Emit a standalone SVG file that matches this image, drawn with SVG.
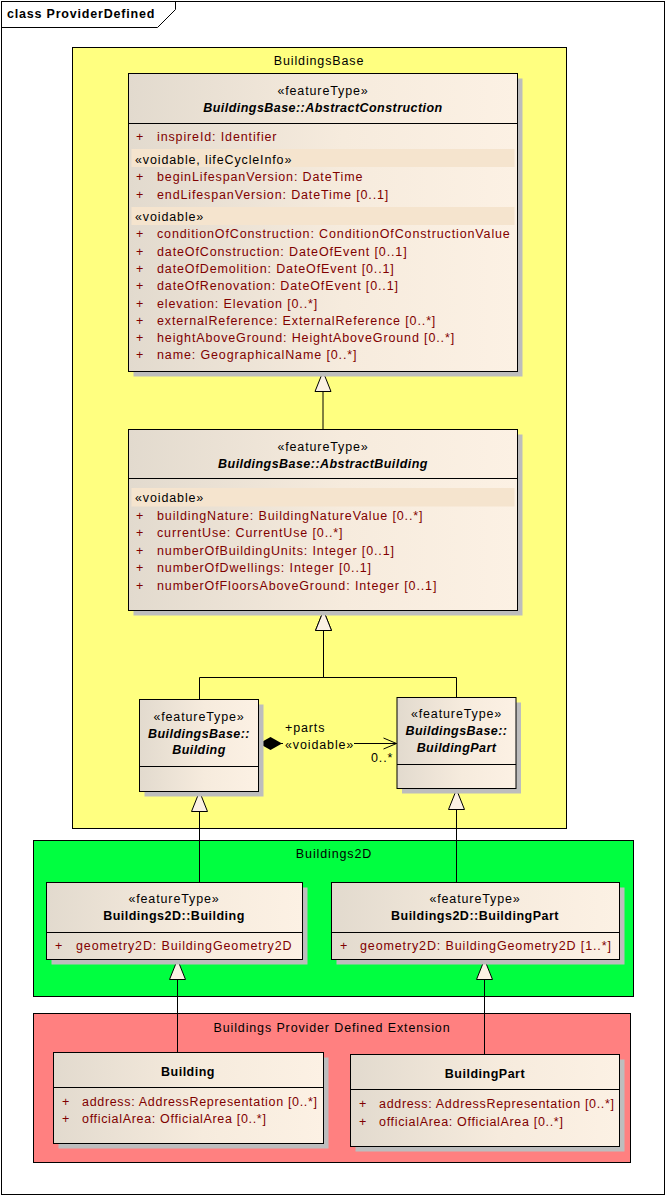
<svg xmlns="http://www.w3.org/2000/svg" width="667" height="1196" viewBox="0 0 667 1196">
<style>
.t{font-family:"Liberation Sans",Arial,sans-serif;font-size:12.5px;letter-spacing:0.87px;fill:#000}
.a{fill:#800000}
.n{letter-spacing:0.68px}
.bi{font-weight:bold;font-style:italic;letter-spacing:0.45px}
.b{font-weight:bold;letter-spacing:0.5px}
.ttl{font-weight:bold;letter-spacing:0.8px}
.m{text-anchor:middle}
.box{fill:url(#g);stroke:#000;stroke-width:1}
.sh{fill:#BDBDBD}
.sep{stroke:#000;stroke-width:1}
.band{fill:#F5E4CE}
.pkg{stroke:#000;stroke-width:1}
.con{fill:none;stroke:#000;stroke-width:1}
</style>
<defs>
<linearGradient id="g" x1="0" y1="0" x2="1" y2="0">
<stop offset="0" stop-color="#E2DACE"/>
<stop offset="0.55" stop-color="#F6EBDD"/>
<stop offset="1" stop-color="#FCF1E4"/>
</linearGradient>
<marker id="gen" markerUnits="userSpaceOnUse" viewBox="0 0 22 18" refX="21" refY="9" markerWidth="22" markerHeight="18" orient="auto" overflow="visible">
<path d="M1,1 L21,9 L1,17 Z" fill="#FBF1E4" stroke="#000" stroke-width="1"/>
</marker>
<marker id="dia" markerUnits="userSpaceOnUse" viewBox="0 0 23 13" refX="0" refY="6.5" markerWidth="23" markerHeight="13" orient="auto" overflow="visible">
<path d="M0,6.5 L11.5,0 L23,6.5 L11.5,13 Z" fill="#000"/>
</marker>
<marker id="open" markerUnits="userSpaceOnUse" viewBox="0 0 14 12" refX="13" refY="6" markerWidth="14" markerHeight="12" orient="auto" overflow="visible">
<path d="M0,0.5 L13,6 L0,11.5" fill="none" stroke="#000" stroke-width="1"/>
</marker>
</defs>
<rect x="0" y="0" width="667" height="1196" fill="#fff"/>
<g id="frame">
<rect x="1.5" y="1.5" width="663" height="1193" fill="none" stroke="#000"/>
<path d="M1.5,27.5 H157.5 L175.5,9.5 V1.5" fill="none" stroke="#000"/>
<text class="t ttl" x="7" y="18">class ProviderDefined</text>
</g>
<g id="pkg-BuildingsBase">
<rect class="pkg" x="72.5" y="47.5" width="494" height="781" fill="#FFFF80"/>
<text class="t m" x="319" y="64.5">BuildingsBase</text>
</g>
<g id="pkg-Buildings2D">
<rect class="pkg" x="33.5" y="840.5" width="600" height="156" fill="#00FF40"/>
<text class="t m" x="334" y="857.5">Buildings2D</text>
</g>
<g id="pkg-Extension">
<rect class="pkg" x="33.5" y="1013.5" width="597" height="149" fill="#FF8080"/>
<text class="t m" x="332" y="1032">Buildings Provider Defined Extension</text>
</g>
<g id="connectors">
<path class="con" d="M323,429 V371.5" marker-end="url(#gen)"/>
<path class="con" d="M199.5,699 V677.5 H323.5 V610.5" marker-end="url(#gen)"/>
<path class="con" d="M456.5,697 V677.5 H323.5 V610.5" marker-end="url(#gen)"/>
<path class="con" d="M199.5,882 V791.5" marker-end="url(#gen)"/>
<path class="con" d="M456.5,882 V789.5" marker-end="url(#gen)"/>
<path class="con" d="M177.5,1052 V959.5" marker-end="url(#gen)"/>
<path class="con" d="M484.5,1054 V959.5" marker-end="url(#gen)"/>
<path class="con" d="M259,743.5 H396.5" marker-start="url(#dia)" marker-end="url(#open)"/>
<rect x="283" y="737" width="71" height="14" fill="#FFFF80"/>
<text class="t" x="285" y="731.5">+parts</text>
<text class="t" x="285" y="749">«voidable»</text>
<text class="t" x="371" y="761.5">0..*</text>
</g>
<g id="AbstractConstruction">
<rect class="sh" x="133.5" y="78.5" width="389" height="298"/>
<rect class="box" x="128.5" y="73.5" width="389" height="298"/>
<line class="sep" x1="128.5" y1="123.5" x2="517.5" y2="123.5"/>
<text class="t m" x="323" y="95">«featureType»</text>
<text class="t bi m" x="323" y="112">BuildingsBase::AbstractConstruction</text>
<text class="t a" x="136" y="141">+</text><text class="t a" x="157" y="141">inspireId: Identifier</text>
<rect class="band" x="131.5" y="149" width="383" height="18"/>
<text class="t" x="135" y="163.5">«voidable, lifeCycleInfo»</text>
<text class="t a" x="136" y="181">+</text><text class="t a" x="157" y="181">beginLifespanVersion: DateTime</text>
<text class="t a" x="136" y="198.5">+</text><text class="t a" x="157" y="198.5">endLifespanVersion: DateTime [0..1]</text>
<rect class="band" x="131.5" y="207" width="383" height="18"/>
<text class="t" x="135" y="220.5">«voidable»</text>
<text class="t a" x="136" y="238">+</text><text class="t a" x="157" y="238">conditionOfConstruction: ConditionOfConstructionValue</text>
<text class="t a" x="136" y="255.5">+</text><text class="t a" x="157" y="255.5">dateOfConstruction: DateOfEvent [0..1]</text>
<text class="t a" x="136" y="272.8">+</text><text class="t a" x="157" y="272.8">dateOfDemolition: DateOfEvent [0..1]</text>
<text class="t a" x="136" y="290.2">+</text><text class="t a" x="157" y="290.2">dateOfRenovation: DateOfEvent [0..1]</text>
<text class="t a" x="136" y="307.5">+</text><text class="t a" x="157" y="307.5">elevation: Elevation [0..*]</text>
<text class="t a" x="136" y="324.8">+</text><text class="t a" x="157" y="324.8">externalReference: ExternalReference [0..*]</text>
<text class="t a" x="136" y="342">+</text><text class="t a" x="157" y="342">heightAboveGround: HeightAboveGround [0..*]</text>
<text class="t a" x="136" y="359.4">+</text><text class="t a" x="157" y="359.4">name: GeographicalName [0..*]</text>
</g>
<g id="AbstractBuilding">
<rect class="sh" x="133.5" y="434.5" width="389" height="181"/>
<rect class="box" x="128.5" y="429.5" width="389" height="181"/>
<line class="sep" x1="128.5" y1="478.5" x2="517.5" y2="478.5"/>
<text class="t m" x="323" y="451">«featureType»</text>
<text class="t bi m" x="323" y="468">BuildingsBase::AbstractBuilding</text>
<rect class="band" x="131.5" y="488" width="383" height="18.5"/>
<text class="t" x="135" y="502">«voidable»</text>
<text class="t a" x="136" y="520">+</text><text class="t a" x="157" y="520">buildingNature: BuildingNatureValue [0..*]</text>
<text class="t a" x="136" y="537">+</text><text class="t a" x="157" y="537">currentUse: CurrentUse [0..*]</text>
<text class="t a" x="136" y="554.5">+</text><text class="t a" x="157" y="554.5">numberOfBuildingUnits: Integer [0..1]</text>
<text class="t a" x="136" y="572">+</text><text class="t a" x="157" y="572">numberOfDwellings: Integer [0..1]</text>
<text class="t a" x="136" y="589.5">+</text><text class="t a" x="157" y="589.5">numberOfFloorsAboveGround: Integer [0..1]</text>
</g>
<g id="BaseBuilding">
<rect class="sh" x="144.5" y="704.5" width="119" height="92"/>
<rect class="box" x="139.5" y="699.5" width="119" height="92"/>
<line class="sep" x1="139.5" y1="766.5" x2="258.5" y2="766.5"/>
<text class="t m" x="199" y="721">«featureType»</text>
<text class="t bi m" x="199" y="737.5">BuildingsBase::</text>
<text class="t bi m" x="199" y="754">Building</text>
</g>
<g id="BaseBuildingPart">
<rect class="sh" x="402" y="702.5" width="119" height="91"/>
<rect class="box" x="397" y="697.5" width="119" height="91"/>
<line class="sep" x1="397" y1="764.5" x2="516" y2="764.5"/>
<text class="t m" x="456.5" y="718">«featureType»</text>
<text class="t bi m" x="456.5" y="735">BuildingsBase::</text>
<text class="t bi m" x="456.5" y="752">BuildingPart</text>
</g>
<g id="B2DBuilding">
<rect class="sh" x="51.5" y="887.5" width="256" height="77"/>
<rect class="box" x="46.5" y="882.5" width="256" height="77"/>
<line class="sep" x1="46.5" y1="932.5" x2="302.5" y2="932.5"/>
<text class="t m" x="174" y="903">«featureType»</text>
<text class="t b m" x="174" y="920">Buildings2D::Building</text>
<text class="t a" x="55" y="949.5">+</text><text class="t a" x="76" y="949.5">geometry2D: BuildingGeometry2D</text>
</g>
<g id="B2DBuildingPart">
<rect class="sh" x="336.5" y="887.5" width="288" height="77"/>
<rect class="box" x="331.5" y="882.5" width="288" height="77"/>
<line class="sep" x1="331.5" y1="932.5" x2="619.5" y2="932.5"/>
<text class="t m" x="475" y="903">«featureType»</text>
<text class="t b m" x="475" y="920">Buildings2D::BuildingPart</text>
<text class="t a" x="340" y="949.5">+</text><text class="t a" x="360" y="949.5">geometry2D: BuildingGeometry2D [1..*]</text>
</g>
<g id="ExtBuilding">
<rect class="sh" x="58.5" y="1057.5" width="270" height="91"/>
<rect class="box" x="53.5" y="1052.5" width="270" height="91"/>
<line class="sep" x1="53.5" y1="1087.5" x2="323.5" y2="1087.5"/>
<text class="t b m" x="188" y="1076">Building</text>
<text class="t a n" x="62" y="1105.5">+</text><text class="t a n" x="82" y="1105.5">address: AddressRepresentation [0..*]</text>
<text class="t a n" x="62" y="1123">+</text><text class="t a n" x="82" y="1123">officialArea: OfficialArea [0..*]</text>
</g>
<g id="ExtBuildingPart">
<rect class="sh" x="355.5" y="1059.5" width="269" height="92"/>
<rect class="box" x="350.5" y="1054.5" width="269" height="92"/>
<line class="sep" x1="350.5" y1="1089.5" x2="619.5" y2="1089.5"/>
<text class="t b m" x="485" y="1078">BuildingPart</text>
<text class="t a n" x="359" y="1108">+</text><text class="t a n" x="379" y="1108">address: AddressRepresentation [0..*]</text>
<text class="t a n" x="359" y="1125.5">+</text><text class="t a n" x="379" y="1125.5">officialArea: OfficialArea [0..*]</text>
</g>
</svg>
